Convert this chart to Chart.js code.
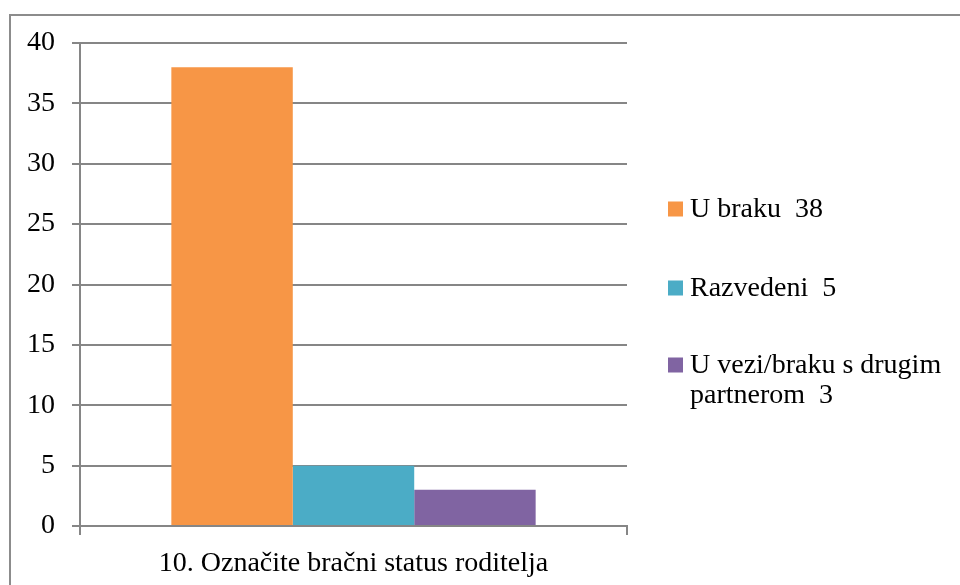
<!DOCTYPE html>
<html>
<head>
<meta charset="utf-8">
<script src="https://cdn.jsdelivr.net/npm/chart.js@4/dist/chart.umd.min.js"></script>
<style>
  html, body { margin: 0; padding: 0; background: #fff; }
  #wrap { position: relative; width: 960px; height: 585px; overflow: hidden; }
  #frame { position: absolute; left: 9px; top: 14px; width: 980px; height: 600px; border: 2px solid #8c8c8c; box-sizing: border-box; }
  #c { position: absolute; left: 0; top: 0; }
</style>
</head>
<body>
<div id="wrap">
  <div id="frame"></div>
  <canvas id="c" width="960" height="585"></canvas>
</div>
<script>
const categories = ["10. Označite bračni status roditelja"];
const seriesNames = ["U braku", "Razvedeni", "U vezi/braku s drugim partnerom"];
const seriesValues = [[38], [5], [3]];
const seriesColors = ["#F79646", "#4BACC6", "#8064A2"];
const yTicks = [0, 5, 10, 15, 20, 25, 30, 35, 40];

const FONT = "'Liberation Serif', 'DejaVu Serif', serif";
const FONT_SIZE = 28;

const legendPlugin = {
  id: 'customLegend',
  afterDraw(chart) {
    const ctx = chart.ctx;
    const x0 = 668, box = 15, textX = 690, maxW = 265, lineH = 30;
    const starts = [209, 288, 365];
    ctx.save();
    ctx.font = FONT_SIZE + "px " + FONT;
    ctx.textBaseline = 'middle';
    chart.data.datasets.forEach((ds, i) => {
      const text = ds.label + "  " + ds.data[0];
      const words = text.split(' ');
      const lines = [];
      let cur = '';
      for (let k = 0; k < words.length; k++) {
        const w = words[k];
        const test = cur === '' ? w : cur + ' ' + w;
        if (ctx.measureText(test).width > maxW && cur !== '') {
          lines.push(cur);
          cur = w;
        } else {
          cur = test;
        }
      }
      lines.push(cur);
      const y = starts[i];
      ctx.fillStyle = ds.backgroundColor;
      ctx.fillRect(x0, y - box / 2, box, box);
      ctx.fillStyle = '#000';
      lines.forEach((ln, j) => {
        ctx.fillText(ln, textX, y + j * lineH + 1);
      });
    });
    ctx.restore();
  }
};

new Chart(document.getElementById('c'), {
  type: 'bar',
  data: {
    labels: categories,
    datasets: seriesNames.map((n, i) => ({
      label: n,
      data: seriesValues[i],
      backgroundColor: seriesColors[i],
      borderWidth: 0
    }))
  },
  options: {
    responsive: false,
    animation: false,
    devicePixelRatio: 1,
    layout: { padding: { top: 43, right: 333, left: 0, bottom: 0 } },
    plugins: {
      legend: { display: false },
      tooltip: { enabled: false }
    },
    datasets: { bar: { categoryPercentage: 0.666, barPercentage: 1.0 } },
    scales: {
      x: {
        grid: { display: true, drawOnChartArea: false, drawTicks: true, tickLength: 9, color: '#868686', lineWidth: 2, offset: true },
        border: { display: true, color: '#868686', width: 2 },
        ticks: { color: '#000', font: { family: FONT, size: FONT_SIZE }, padding: 12 },
        afterFit(s) { s.height = 59; }
      },
      y: {
        min: 0, max: 40,
        afterBuildTicks(s) { s.ticks = yTicks.map(v => ({ value: v })); },
        grid: { color: '#868686', lineWidth: 2, tickLength: 8 },
        border: { display: true, color: '#868686', width: 2 },
        ticks: { color: '#000', font: { family: FONT, size: FONT_SIZE }, padding: 17 },
        afterFit(s) { s.width = 80; }
      }
    }
  },
  plugins: [legendPlugin]
});
</script>
</body>
</html>
